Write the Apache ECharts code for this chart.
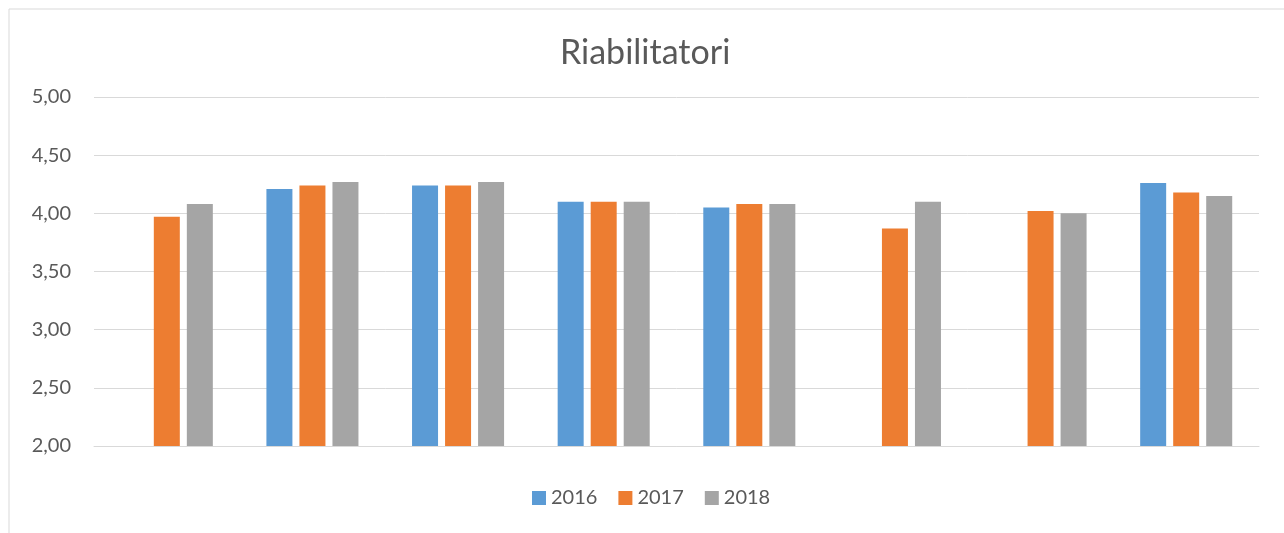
<!DOCTYPE html>
<html>
<head>
<meta charset="utf-8">
<script src="https://cdn.jsdelivr.net/npm/echarts@6/dist/echarts.min.js"></script>
<style>
  html, body { margin: 0; padding: 0; background: #fff; }
  #grafico { width: 1284px; height: 533px; }
</style>
</head>
<body>
<div id="grafico"></div>
<script>
  // categorie senza etichetta sull'asse x
  const categorie = ['1', '2', '3', '4', '5', '6', '7', '8'];
  const anni = ['2016', '2017', '2018'];
  const valori2016 = [null, 4.21, 4.24, 4.10, 4.05, null, null, 4.26];
  const valori2017 = [3.97, 4.24, 4.24, 4.10, 4.08, 3.87, 4.02, 4.18];
  const valori2018 = [4.08, 4.27, 4.27, 4.10, 4.08, 4.10, 4.00, 4.15];
  const colori = ['#5b9bd5', '#ed7d31', '#a5a5a5'];

  const font = 'Lato, "Open Sans", sans-serif';
  const chart = echarts.init(document.getElementById('grafico'));

  const serie = [valori2016, valori2017, valori2018].map((dati, i) => ({
    name: anni[i],
    type: 'bar',
    data: dati,
    barWidth: 26,
    barGap: '27%',
    itemStyle: { color: colori[i] },
  }));

  chart.setOption({
    backgroundColor: '#fff',
    animation: false,
    color: colori,
    graphic: [{
      type: 'rect',
      shape: { x: 9, y: 9, width: 1290, height: 540 },
      style: { fill: 'none', stroke: '#d9d9d9', lineWidth: 1 },
      silent: true,
    }],
    title: {
      text: 'Riabilitatori',
      left: 555,
      top: 31,
      textStyle: { fontFamily: font, fontSize: 34, fontWeight: 'normal', color: '#595959' },
    },
    legend: {
      bottom: 20,
      left: 527,
      itemWidth: 14,
      itemHeight: 14,
      itemGap: 21,
      icon: 'rect',
      textStyle: { fontFamily: font, fontSize: 20, color: '#595959' },
      data: anni,
    },
    grid: { left: 94, right: 25, top: 97, bottom: 87 },
    xAxis: {
      type: 'category',
      data: categorie,
      axisLine: { show: true, lineStyle: { color: '#d9d9d9', width: 1 } },
      axisTick: { show: false },
      axisLabel: { show: false },
    },
    yAxis: {
      type: 'value',
      min: 2,
      max: 5,
      interval: 0.5,
      axisLine: { show: false },
      axisTick: { show: false },
      axisLabel: {
        margin: 23,
        fontFamily: font,
        fontSize: 20,
        color: '#595959',
        formatter: (v) => v.toFixed(2).replace('.', ','),
      },
      splitLine: { lineStyle: { color: '#d9d9d9', width: 1 } },
    },
    series: serie,
  });
</script>
</body>
</html>
